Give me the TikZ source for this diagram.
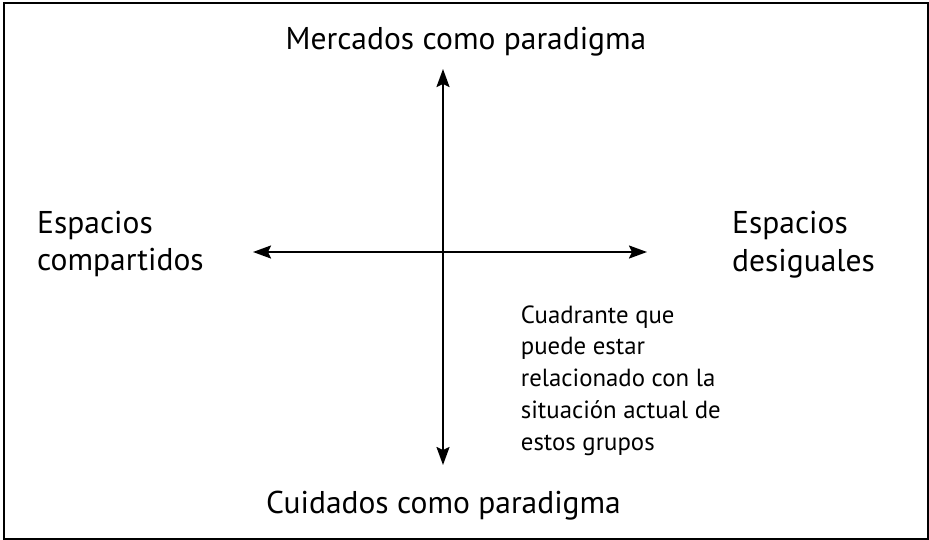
\documentclass[tikz,border=0pt]{standalone}
\usepackage{fontspec}
\setmainfont{PT Sans}
\usetikzlibrary{arrows.meta}
\begin{document}
\begin{tikzpicture}[x=1pt,y=-1pt,
  big/.style={font=\fontsize{31.5}{37.5}\selectfont, inner sep=0pt, align=left},
  small/.style={font=\fontsize{24.8}{31.7}\selectfont, inner sep=0pt, align=left},
  axis/.style={line width=2pt, {Stealth[length=18pt,width=13pt,inset=3pt]}-{Stealth[length=18pt,width=13pt,inset=3pt]}}]
\useasboundingbox (0,0) rectangle (929,539);
\fill[white] (0,0) rectangle (929,539);
\draw[line width=2pt] (4,3) rectangle (928,539);
\coordinate (top) at (443,69);
\coordinate (bot) at (443,465);
\coordinate (lft) at (253,252);
\coordinate (rgt) at (647,252);
\draw[axis] (bot) -- (top);
\draw[axis] (lft) -- (rgt);
\node[big, anchor=base] (mercados) at (466,49.3) {Mercados como paradigma};
\node[big, anchor=base] (cuidados) at (443.5,513) {Cuidados como paradigma};
\node[big, anchor=base west] (compartidos) at (37,270.7) {Espacios\\compartidos};
\node[big, anchor=base west] (desiguales) at (732,271) {Espacios\\desiguales};
\node[small, anchor=base west] (cuadrante) at (520.7,450) {Cuadrante que\\puede estar\\relacionado con la\\situación actual de\\estos grupos};
\end{tikzpicture}
\end{document}
